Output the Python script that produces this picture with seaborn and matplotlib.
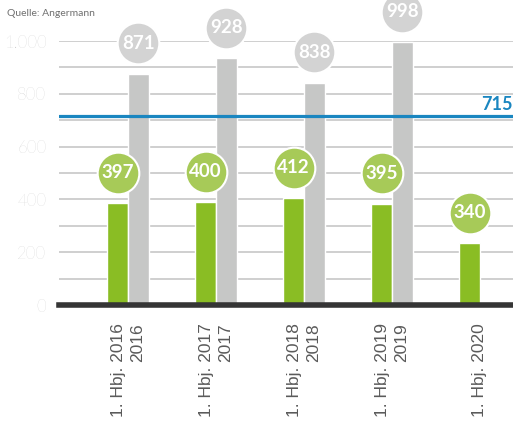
import numpy as np
import pandas as pd
import matplotlib
matplotlib.use('Agg')
import matplotlib.pyplot as plt
import matplotlib.transforms as mtransforms
import seaborn as sns

# values
periods = ['1. Hbj. 2016\n2016', '1. Hbj. 2017\n2017', '1. Hbj. 2018\n2018',
           '1. Hbj. 2019\n2019', '1. Hbj. 2020']
h1_height = [386, 390, 405, 383, 235]
h1_label = [397, 400, 412, 395, 340]
year_height = [875, 935, 841, 996, np.nan]
year_label = [871, 928, 838, 998, None]
ref_value = 715
y_ticks = [0, 200, 400, 600, 800, 1000]
y_tick_labels = ['0', '200', '400', '600', '800', '1.000']

green = '#8abd24'
green_circle = '#a7ca58'
grey = '#c6c7c6'
grey_circle = '#d3d3d3'
blue = '#1a86c0'

df = pd.DataFrame({
    'period': periods * 2,
    'series': ['Halbjahr'] * 5 + ['Jahr'] * 5,
    'value': h1_height + year_height,
})

sns.set_style('white')
plt.rcParams['font.family'] = ['Lato', 'DejaVu Sans']

fig = plt.figure(figsize=(5.13, 4.25), dpi=100)
ax = fig.add_axes([0.115, 0.282, 0.885, 0.6215])

sns.barplot(data=df, x='period', y='value', hue='series',
            palette=[green, grey], width=0.47, saturation=1,
            legend=False, ax=ax)

ax.set_xlim(-0.784, 4.375)
ax.set_ylim(0, 1000)
ax.set_yticks(np.arange(0, 1001, 100))
ax.set_yticklabels([y_tick_labels[y_ticks.index(v)] if v in y_ticks else ''
                    for v in range(0, 1001, 100)],
                   color='#c4c4c4', fontsize=12, fontweight='light')
ax.yaxis.grid(True, color='#cccccc', linewidth=1.3)
ax.set_axisbelow(True)
ax.tick_params(axis='y', length=0, pad=9)
ax.tick_params(axis='x', length=0, pad=13)
ax.set_xlabel('')
ax.set_ylabel('')
for s in ['top', 'right', 'left']:
    ax.spines[s].set_visible(False)
ax.spines['bottom'].set_color('#353535')
ax.spines['bottom'].set_linewidth(4)
ax.spines['bottom'].set_zorder(5)

ax.set_xticks(range(len(periods)))
ax.set_xticklabels(periods, rotation=90, fontsize=12.5, color='#5a5a5a',
                   multialignment='right', family=['Liberation Sans'],
                   linespacing=1.3)

# reference line
ax.axhline(ref_value, color=blue, linewidth=2.3, zorder=4)
ax.text(1.0, ref_value + 12, str(ref_value), transform=ax.get_yaxis_transform(),
        ha='right', va='bottom', color=blue, fontsize=13, fontweight='bold')

# circle labels above bars
lift = mtransforms.offset_copy(ax.transData, fig=fig, y=22, units='points')
bars = ax.patches
n = len(periods)
groups = [(bars[:n], h1_height, h1_label, green_circle),
          (bars[n:2 * n], year_height, year_label, grey_circle)]
for patches, heights, labels, col in groups:
    for p, h, lab in zip(patches, heights, labels):
        if lab is None or np.isnan(h):
            continue
        cx = p.get_x() + p.get_width() / 2
        ax.scatter([cx], [h], s=900, color=col, edgecolors='white',
                   linewidths=1.5, transform=lift, zorder=6, clip_on=False)
        ax.text(cx, h, str(lab), transform=lift, ha='center', va='center',
                color='white', fontsize=13.5, fontweight='bold', zorder=7)

fig.text(0.014, 0.969, 'Quelle: Angermann', fontsize=7.5, color='#707070',
         va='center', ha='left')

fig.savefig('out.png', dpi=100)
